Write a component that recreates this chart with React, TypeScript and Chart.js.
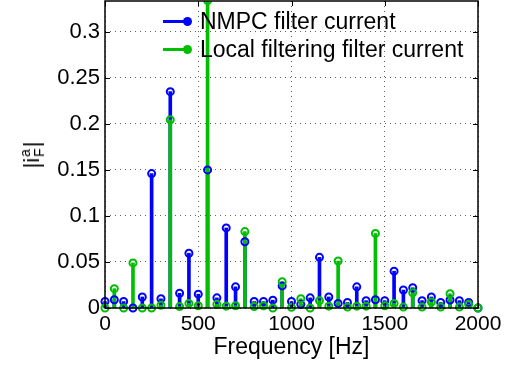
import React, { useEffect, useRef } from 'react';
import { Chart, registerables } from 'chart.js';

Chart.register(...registerables);

// ---- data ----
const frequencies = [
  0, 50, 100, 150, 200, 250, 300, 350, 400, 450, 500, 550, 600, 650, 700, 750, 800, 850, 900, 950,
  1000, 1050, 1100, 1150, 1200, 1250, 1300, 1350, 1400, 1450, 1500, 1550, 1600, 1650, 1700, 1750,
  1800, 1850, 1900, 1950, 2000,
];
const nmpcCurrent = [
  0.007, 0.009, 0.007, 0.0, 0.012, 0.146, 0.010, 0.235, 0.016, 0.0595, 0.015, 0.150, 0.011, 0.087,
  0.023, 0.072, 0.007, 0.007, 0.0085, 0.024, 0.007, 0.004, 0.011, 0.055, 0.012, 0.005, 0.006, 0.023,
  0.008, 0.009, 0.008, 0.040, 0.0195, 0.022, 0.008, 0.012, 0.006, 0.0087, 0.008, 0.006, 0.0,
];
const localCurrent = [
  0.0, 0.021, 0.0, 0.049, 0.0, 0.0, 0.003, 0.2045, 0.0015, 0.005, 0.0025, 0.334, 0.004, 0.002,
  0.0025, 0.083, 0.0015, 0.0025, 0.0, 0.0285, 0.0007, 0.010, 0.0, 0.008, 0.002, 0.051, 0.001, 0.002,
  0.002, 0.081, 0.0025, 0.005, 0.001, 0.0166, 0.001, 0.0065, 0.001, 0.0155, 0.001, 0.004, 0.0,
];
const seriesNames = ['NMPC filter current', 'Local filtering filter current'];
const xTicks = [0, 500, 1000, 1500, 2000];
const xTickLabels = ['0', '500', '1000', '1500', '2000'];
const yTicks = [0, 0.05, 0.1, 0.15, 0.2, 0.25, 0.3];
const yTickLabels = ['0', '0.05', '0.1', '0.15', '0.2', '0.25', '0.3'];
const xMin = 0;
const xMax = 2000;
const yMin = 0;
const yMax = 0.3335;
const xTitle = 'Frequency [Hz]';

const BLUE = '#0000ff';
const GREEN = '#00bf00';
const FONT = "'Liberation Sans', Arial, Helvetica, sans-serif";

const framePlugin = {
  id: 'frame',
  afterDraw(chart: any) {
    const { ctx, chartArea, scales } = chart;
    const { left, right, top, bottom } = chartArea;
    ctx.save();
    ctx.strokeStyle = '#000';
    ctx.lineWidth = 1.5;
    ctx.strokeRect(left, top, right - left, bottom - top);
    ctx.lineWidth = 1;
    const tl = 5;
    ctx.beginPath();
    xTicks.forEach((v) => {
      const px = Math.round(scales.x.getPixelForValue(v)) + 0.5;
      ctx.moveTo(px, bottom);
      ctx.lineTo(px, bottom - tl);
      ctx.moveTo(px, top);
      ctx.lineTo(px, top + tl);
    });
    yTicks.forEach((v) => {
      const py = Math.round(scales.y.getPixelForValue(v)) + 0.5;
      ctx.moveTo(left, py);
      ctx.lineTo(left + tl, py);
      ctx.moveTo(right, py);
      ctx.lineTo(right - tl, py);
    });
    ctx.stroke();
    ctx.restore();
  },
};

function toPoints(values: number[]) {
  return values.map((y, i) => ({ x: frequencies[i], y }));
}

export default function App() {
  const canvasRef = useRef<HTMLCanvasElement | null>(null);

  useEffect(() => {
    if (!canvasRef.current) return;
    Chart.defaults.font.family = FONT;
    Chart.defaults.color = '#000';
    const clip = { left: 10, top: 0, right: 10, bottom: 10 };
    const chart = new Chart(canvasRef.current, {
      type: 'bar',
      data: {
        datasets: [
          {
            type: 'line',
            label: seriesNames[1],
            data: toPoints(localCurrent),
            showLine: false,
            pointRadius: 3.5,
            pointHoverRadius: 3.5,
            pointBorderWidth: 2,
            pointBorderColor: GREEN,
            pointBackgroundColor: 'rgba(0,0,0,0)',
            borderColor: GREEN,
            clip,
            order: 0,
          } as any,
          {
            type: 'line',
            label: seriesNames[0],
            data: toPoints(nmpcCurrent),
            showLine: false,
            pointRadius: 3.5,
            pointHoverRadius: 3.5,
            pointBorderWidth: 2,
            pointBorderColor: BLUE,
            pointBackgroundColor: 'rgba(0,0,0,0)',
            borderColor: BLUE,
            clip,
            order: 1,
          } as any,
          {
            type: 'bar',
            label: seriesNames[1] + ' stem',
            data: toPoints(localCurrent),
            backgroundColor: GREEN,
            borderWidth: 0,
            barThickness: 3,
            grouped: false,
            clip,
            order: 2,
          } as any,
          {
            type: 'bar',
            label: seriesNames[0] + ' stem',
            data: toPoints(nmpcCurrent),
            backgroundColor: BLUE,
            borderWidth: 0,
            barThickness: 3,
            grouped: false,
            clip,
            order: 3,
          } as any,
        ],
      },
      options: {
        responsive: false,
        animation: false,
        events: [],
        layout: { autoPadding: false, padding: { left: 0, right: 38, top: 1, bottom: 0 } },
        plugins: {
          legend: { display: false },
          tooltip: { enabled: false },
          title: { display: false },
        },
        scales: {
          x: {
            type: 'linear',
            min: xMin,
            max: xMax,
            offset: false,
            afterBuildTicks: (axis: any) => {
              axis.ticks = xTicks.map((v) => ({ value: v }));
            },
            afterFit: (axis: any) => {
              axis.height = 61;
              axis.paddingLeft = 0;
              axis.paddingRight = 0;
            },
            ticks: {
              autoSkip: false,
              maxRotation: 0,
              padding: 4,
              color: '#000',
              font: { size: 21, family: FONT },
              callback: (_v: any, i: number) => xTickLabels[i],
            },
            grid: {
              offset: false,
              drawTicks: false,
              color: 'rgba(70,70,70,0.85)',
              lineWidth: 1,
            },
            border: { display: false, dash: [1, 4] },
            title: {
              display: true,
              text: xTitle,
              color: '#000',
              font: { size: 23, family: FONT },
              padding: { top: 0, bottom: 8 },
            },
          } as any,
          y: {
            type: 'linear',
            min: yMin,
            max: yMax,
            afterBuildTicks: (axis: any) => {
              axis.ticks = yTicks.map((v) => ({ value: v }));
            },
            afterFit: (axis: any) => {
              axis.width = 105;
              axis.paddingTop = 0;
              axis.paddingBottom = 0;
            },
            ticks: {
              padding: 5,
              color: '#000',
              font: { size: 22, family: FONT },
              callback: (_v: any, i: number) => yTickLabels[i],
            },
            grid: {
              drawTicks: false,
              color: 'rgba(70,70,70,0.85)',
              lineWidth: 1,
            },
            border: { display: false, dash: [1, 4] },
          } as any,
        },
      },
      plugins: [framePlugin],
    });
    return () => chart.destroy();
  }, []);

  const legendRows = [
    { name: seriesNames[0], color: BLUE, cy: 21 },
    { name: seriesNames[1], color: GREEN, cy: 49 },
  ];

  return (
    <div style={{ position: 'fixed', left: 0, top: 0, width: 516, height: 369, background: '#fff', overflow: 'hidden' }}>
      <canvas ref={canvasRef} width={516} height={369} style={{ display: 'block', width: 516, height: 369 }} />
      {legendRows.map((r) => (
        <React.Fragment key={r.name}>
          <div style={{ position: 'absolute', left: 163, top: r.cy - 1.5, width: 24, height: 3, background: r.color }} />
          <div style={{ position: 'absolute', left: 182.5, top: r.cy - 4.5, width: 9, height: 9, borderRadius: '50%', background: r.color }} />
          <div
            style={{
              position: 'absolute',
              left: 200,
              top: r.cy - 10.8,
              fontFamily: FONT,
              fontSize: 23,
              lineHeight: '23px',
              color: '#000',
              whiteSpace: 'nowrap',
            }}
          >
            {r.name}
          </div>
        </React.Fragment>
      ))}
      <div
        style={{
          position: 'absolute',
          left: 32,
          top: 155,
          transform: 'translate(-50%, -50%) rotate(-90deg)',
          fontFamily: FONT,
          fontSize: 22,
          lineHeight: '24px',
          color: '#000',
          whiteSpace: 'nowrap',
          display: 'flex',
          alignItems: 'center',
        }}
      >
        <span>|i</span>
        <span style={{ display: 'inline-flex', flexDirection: 'column', fontSize: 14, lineHeight: '14px', margin: '0 1px' }}>
          <span>a</span>
          <span>F</span>
        </span>
        <span>|</span>
      </div>
    </div>
  );
}
